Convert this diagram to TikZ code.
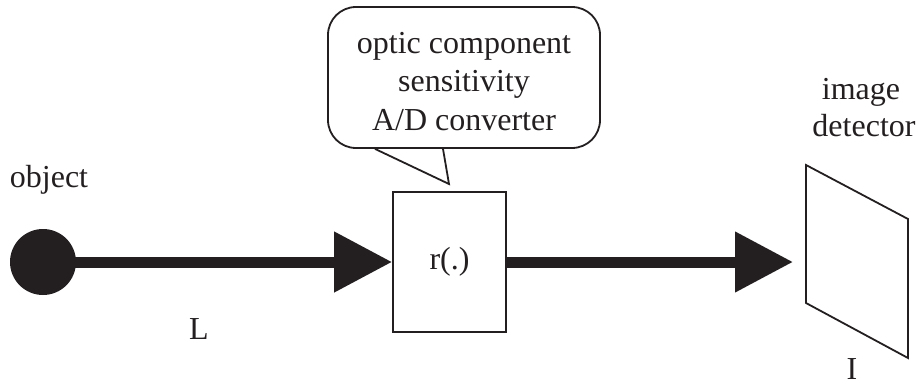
\documentclass[tikz,border=0pt]{standalone}
\usepackage{fontspec}
\setmainfont{Liberation Serif}
\usetikzlibrary{arrows.meta}
\definecolor{ink}{HTML}{231F20}
\begin{document}
\begin{tikzpicture}[x=1pt,y=-1pt,
  every node/.style={font=\fontsize{32}{38.5}\selectfont, text=ink, inner sep=0pt},
  outline/.style={draw=ink, line width=1.8pt},
  beam/.style={draw=ink, line width=11pt, -{Triangle[length=58pt,width=58pt]}},
  label/.style={anchor=base}]
  \useasboundingbox (0,0) rectangle (918,385);

  % source point
  \fill[ink] (43,262) circle (33) coordinate (src);
  \node[label] (objlbl) at (49,187) {object};

  % response block
  \node[outline, minimum width=113pt, minimum height=140pt] (resp) at (449.5,262) {r(.)};

  % speech bubble describing the block
  \node[outline, rounded corners=28pt, minimum width=272pt, minimum height=141pt]
        (bubble) at (464,77.5) {};
  \node[align=center] (bubbletxt) at (464,81.5) {optic component\\sensitivity\\A/D converter};
  \coordinate (tipL) at ([xshift=-89pt]bubble.south);
  \coordinate (tipR) at ([xshift=-21pt]bubble.south);
  \coordinate (tip) at (449,184);
  \fill[white] ([yshift=-2pt]tipL) -- (tip) -- ([yshift=-2pt]tipR) -- cycle;
  \draw[outline, line join=miter] (tipL) -- (tip) -- (tipR);

  % image detector plane
  \coordinate (d1) at (806,165);
  \coordinate (d2) at (908,219);
  \coordinate (d3) at (908,358);
  \coordinate (d4) at (806,303);
  \draw[outline, line join=miter] (d1) -- (d2) -- (d3) -- (d4) -- cycle;
  \coordinate (detin) at (793,262);
  \node[label] (detlbl) at (861,100) {image};
  \node[label] (detlbl2) at (864,136) {detector};
  \node[label, text depth=0pt] (Ilbl) at (852,379) {I};

  % light paths
  \draw[beam] (src) -- (resp.west);
  \draw[beam] (resp.east) -- (detin);
  \node[label] (Llbl) at (199,339) {L};
\end{tikzpicture}
\end{document}
